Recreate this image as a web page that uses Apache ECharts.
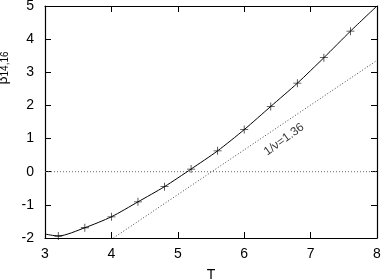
<!DOCTYPE html>
<html lang="en">
<head>
  <meta charset="UTF-8">
  <title>beta 14,16 vs T</title>
  <script src="https://cdn.jsdelivr.net/npm/echarts@6/dist/echarts.min.js"></script>
</head>
<body style="margin:0;background:#fff">
<div id="main" style="width:382px; height:280px;"></div>
<script>
  // curve through the data, incl. the ends at T=3 and T=8
  var curveT    = [3.0, 3.2, 3.6, 4.0, 4.4, 4.8, 5.2, 5.6, 6.0, 6.4, 6.8, 7.2, 7.6, 8.0];
  var curveBeta = [-1.88, -1.94, -1.69, -1.36, -0.91, -0.45, 0.08, 0.63, 1.27, 1.97, 2.67, 3.44, 4.24, 5.0];
  // points drawn with +
  var markT    = [3.2, 3.6, 4.0, 4.4, 4.8, 5.2, 5.6, 6.0, 6.4, 6.8, 7.2, 7.6];
  var markBeta = [-1.94, -1.69, -1.36, -0.91, -0.45, 0.08, 0.63, 1.27, 1.97, 2.67, 3.44, 4.24];
  // asymptotic line, slope 1/nu
  var fitT    = [4.03, 8.0];
  var fitBeta = [-2.0, 3.36];
  var zeroT = [3, 8];
  var zeroBeta = [0, 0];
  var fitText = '1/\u03bd=1.36';
  var fitTextAt = [6.6, 0.97];

  function pairs(xs, ys) {
    return xs.map(function (x, i) { return [x, ys[i]]; });
  }

  var font = 'Liberation Sans, Arial, sans-serif';
  var chart = echarts.init(document.getElementById('main'));

  var tickX = { show: true, inside: true, length: 6, lineStyle: { color: '#000', width: 1 } };
  var lineAx = { show: true, onZero: false, lineStyle: { color: '#000', width: 1.2 } };

  var option = {
    animation: false,
    grid: { left: 45, right: 5, top: 6, bottom: 42, outerBoundsMode: 'none', containLabel: false },
    xAxis: [
      {
        type: 'value', min: 3, max: 8, interval: 1,
        name: 'T', nameLocation: 'middle', nameGap: 30,
        nameTextStyle: { fontFamily: font, fontSize: 14, color: '#000' },
        axisLine: lineAx, axisTick: tickX, splitLine: { show: false },
        axisLabel: { fontFamily: font, fontSize: 14, color: '#000', margin: 9 }
      },
      {
        type: 'value', position: 'top', min: 3, max: 8, interval: 1,
        axisLine: lineAx, axisTick: tickX, splitLine: { show: false },
        axisLabel: { show: false }
      }
    ],
    yAxis: [
      {
        type: 'value', min: -2, max: 5, interval: 1,
        name: '{b|\u03b2}{s|14,16}', nameLocation: 'middle', nameRotate: 90, nameGap: 32,
        nameTextStyle: {
          fontFamily: font, color: '#000', padding: [0, 0, 0, 108],
          rich: {
            b: { fontFamily: font, fontSize: 14, color: '#000', lineHeight: 16, verticalAlign: 'middle' },
            s: { fontFamily: font, fontSize: 10, color: '#000', lineHeight: 16, verticalAlign: 'bottom', padding: [7, 0, 0, 0] }
          }
        },
        axisLine: lineAx, axisTick: tickX, splitLine: { show: false },
        axisLabel: { fontFamily: font, fontSize: 14, color: '#000', margin: 11 }
      },
      {
        type: 'value', position: 'right', min: -2, max: 5, interval: 1,
        axisLine: lineAx, axisTick: tickX, splitLine: { show: false },
        axisLabel: { show: false }
      }
    ],
    series: [
      {
        type: 'line', data: pairs(zeroT, zeroBeta), showSymbol: false, silent: true,
        lineStyle: { color: '#666', width: 1, type: [1, 2] }
      },
      {
        type: 'line', data: pairs(fitT, fitBeta), showSymbol: false, silent: true,
        lineStyle: { color: '#444', width: 1, type: [1, 2] }
      },
      {
        type: 'line', data: pairs(curveT, curveBeta), smooth: 0.25,
        showSymbol: false, lineStyle: { color: '#000', width: 1 }
      },
      {
        type: 'scatter', data: pairs(markT, markBeta),
        symbol: 'path://M0,4.5h10v1h-10z M4.5,0h1v10h-1z', symbolSize: 8,
        itemStyle: { color: '#000' }
      },
      {
        type: 'scatter', data: [fitTextAt], symbolSize: 0, silent: true,
        label: {
          show: true, position: 'inside', rotate: 36, formatter: fitText,
          fontFamily: font, fontSize: 12, color: '#000'
        }
      }
    ]
  };
  chart.setOption(option);
</script>
</body>
</html>
